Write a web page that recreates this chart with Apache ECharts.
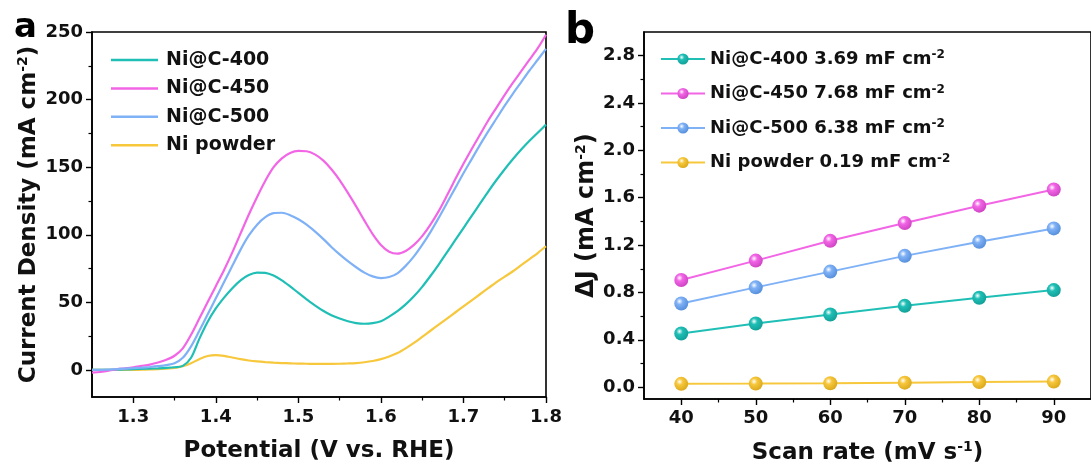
<!DOCTYPE html>
<html>
<head>
<meta charset="utf-8">
<script src="https://cdn.jsdelivr.net/npm/echarts@6/dist/echarts.min.js"></script>
<style>
  html, body { margin: 0; padding: 0; background: #fff; }
  #main { width: 1091px; height: 473px; }
</style>
</head>
<body>
<div id="main"></div>
<script>
// panel a: LSV curves, 10 mV steps from 1.25 V to 1.80 V
var potential = [1.25, 1.26, 1.27, 1.28, 1.29, 1.30, 1.31, 1.32, 1.33, 1.34,
    1.35, 1.36, 1.37, 1.38, 1.39, 1.40, 1.41, 1.42, 1.43, 1.44,
    1.45, 1.46, 1.47, 1.48, 1.49, 1.50, 1.51, 1.52, 1.53, 1.54,
    1.55, 1.56, 1.57, 1.58, 1.59, 1.60, 1.61, 1.62, 1.63, 1.64,
    1.65, 1.66, 1.67, 1.68, 1.69, 1.70, 1.71, 1.72, 1.73, 1.74,
    1.75, 1.76, 1.77, 1.78, 1.79, 1.80];
var jNiC400 = [0, 0, 0, 0.2, 0.4, 0.6, 0.8, 1, 1.2, 1.5,
    2, 3, 9, 23, 35.5, 45.5, 53.5, 60.5, 66.3, 70.2,
    72, 71.8, 69.8, 66.3, 61.8, 57, 52.3, 47.8, 43.8, 40.5,
    38, 36, 34.7, 34.2, 34.6, 36, 39.5, 43.5, 48.5, 54.5,
    61.5, 69.5, 78, 87, 96, 105, 114, 123, 132, 140.5,
    148.5, 156, 163, 169.5, 175.5, 181.5];
var jNiC450 = [-2, -1.5, -0.5, 0.5, 1.2, 2, 3, 4, 5.5, 7.5,
    10.5, 16, 26, 38, 50, 62, 74, 87, 101, 115,
    128, 140, 150, 156.5, 160.5, 162, 161.8, 159.5, 155, 148.5,
    140.5, 131, 121, 110.5, 100.5, 92.5, 87.5, 86, 88, 92.5,
    99, 107.5, 117.5, 129, 141, 152.5, 163.5, 174, 184.5, 194,
    203.5, 212.5, 221, 229.5, 238, 248];
var jNiC500 = [0, 0, 0.3, 0.6, 1, 1.3, 1.7, 2.2, 2.8, 3.6,
    5, 9, 17.5, 29, 41, 53, 65, 77, 89, 99.5,
    107.5, 113, 116, 116.3, 114.5, 111.5, 107.5, 102.5, 97, 91,
    85.5, 80.5, 76, 72, 69.2, 68, 68.8, 71.5, 77, 84,
    92.5, 102, 112.5, 123.5, 134.5, 145.5, 156, 166.5, 176.5, 186,
    195.5, 204.5, 213, 221.5, 229.5, 237.5];
var jNiPowder = [0, 0, 0, 0, 0, 0, 0.2, 0.4, 0.6, 1,
    1.5, 2.8, 5, 8, 10.3, 11, 10.4, 9.2, 8, 7,
    6.3, 5.8, 5.4, 5.1, 4.9, 4.7, 4.6, 4.5, 4.5, 4.5,
    4.6, 4.8, 5.1, 5.7, 6.6, 8, 10, 12.5, 16, 20,
    24.5, 29, 33.5, 38, 42.5, 47, 51.5, 56, 60.5, 65,
    69, 73, 77.5, 82, 86.5, 91.5];

// panel b: double layer capacitance
var scanRate = [40, 50, 60, 70, 80, 90];
var dj400 = [0.453, 0.538, 0.614, 0.687, 0.755, 0.820];
var dj450 = [0.905, 1.069, 1.236, 1.386, 1.533, 1.669];
var dj500 = [0.707, 0.843, 0.976, 1.109, 1.228, 1.341];
var djPowder = [0.028, 0.030, 0.033, 0.038, 0.044, 0.047];

var namesA = ['Ni@C-400', 'Ni@C-450', 'Ni@C-500', 'Ni powder'];
var namesB = ['Ni@C-400 3.69 mF cm', 'Ni@C-450 7.68 mF cm', 'Ni@C-500 6.38 mF cm', 'Ni powder 0.19 mF cm'];
var colors = ['#1fbfb6', '#f266e6', '#7fb1f6', '#f7c73c'];
var darkColors = ['#12a199', '#cf45c4', '#5790dc', '#dcaa1c'];

var ticksAMajorX = [1.3, 1.4, 1.5, 1.6, 1.7, 1.8];
var ticksAMinorX = [1.35, 1.45, 1.55, 1.65, 1.75];
var ticksAMajorY = [0, 50, 100, 150, 200, 250];
var ticksAMinorY = [25, 75, 125, 175, 225];
var ticksBMajorX = [40, 50, 60, 70, 80, 90];
var ticksBMinorX = [45, 55, 65, 75, 85];
var ticksBMajorY = [0, 0.4, 0.8, 1.2, 1.6, 2.0, 2.4, 2.8];
var ticksBMinorY = [0.2, 0.6, 1.0, 1.4, 1.8, 2.2, 2.6];

var FONT = 'DejaVu Sans, sans-serif';

function pairs(xs, ys) {
    return xs.map(function (x, i) { return [x, ys[i]]; });
}

function sphere(i) {
    return {
        type: 'radial', x: 0.38, y: 0.35, r: 0.65,
        colorStops: [
            { offset: 0, color: '#ffffff' },
            { offset: 0.35, color: colors[i] },
            { offset: 1, color: darkColors[i] }
        ]
    };
}

function nameStyle(size) {
    return {
        color: '#111', fontFamily: FONT, fontWeight: 'bold', fontSize: size,
        rich: {
            t: { fontFamily: FONT, fontWeight: 'bold', fontSize: size, color: '#111' },
            s: { fontFamily: FONT, fontWeight: 'bold', fontSize: 14, color: '#111', verticalAlign: 'top', padding: [0, 0, 12, 0] }
        }
    };
}

function majorAxis(grid, pos, min, max, major, fmt, margin, name, gap, nameSize) {
    return {
        type: 'value', gridIndex: grid, position: pos, min: min, max: max,
        axisLine: { show: true, onZero: false, lineStyle: { color: '#000', width: 1.6 } },
        axisTick: { show: true, inside: false, length: 6, customValues: major, lineStyle: { color: '#000', width: 1.4 } },
        axisLabel: { customValues: major, formatter: fmt, margin: margin, color: '#111', fontFamily: FONT, fontWeight: 'bold', fontSize: 18 },
        splitLine: { show: false },
        name: name, nameLocation: 'middle', nameGap: gap,
        nameTextStyle: nameStyle(nameSize)
    };
}

function minorAxis(grid, pos, min, max, minor) {
    return {
        type: 'value', gridIndex: grid, position: pos, offset: 0, min: min, max: max,
        axisLine: { show: false, onZero: false },
        axisTick: { show: true, inside: false, length: 3.5, customValues: minor, lineStyle: { color: '#000', width: 1.2 } },
        axisLabel: { show: false },
        splitLine: { show: false }
    };
}

var fmt1 = function (v) { return v.toFixed(1); };
var fmt0 = function (v) { return String(Math.round(v)); };

var seriesA = [jNiC400, jNiC450, jNiC500, jNiPowder].map(function (d, i) {
    return {
        name: namesA[i], type: 'line', xAxisIndex: 0, yAxisIndex: 0,
        data: pairs(potential, d), smooth: 0.3, symbol: 'none',
        lineStyle: { color: colors[i], width: 2.2 }, itemStyle: { color: colors[i] },
        z: i === 3 ? 2 : 3
    };
});

var seriesB = [dj400, dj450, dj500, djPowder].map(function (d, i) {
    return {
        name: namesB[i], type: 'line', xAxisIndex: 2, yAxisIndex: 2,
        data: pairs(scanRate, d), symbol: 'circle', symbolSize: 14, showSymbol: true,
        lineStyle: { color: colors[i], width: 2 },
        itemStyle: { color: sphere(i), borderWidth: 0 }
    };
});

var chart = echarts.init(document.getElementById('main'), null, { renderer: 'canvas' });
chart.setOption({
    animation: false,
    backgroundColor: '#fff',
    textStyle: { fontFamily: FONT },
    grid: [
        { left: 92, right: 545, top: 32, bottom: 76, show: true, borderColor: '#000', borderWidth: 1.6, backgroundColor: 'transparent' },
        { left: 644, right: -6, top: 32, bottom: 74, show: true, borderColor: '#000', borderWidth: 1.6, backgroundColor: 'transparent' }
    ],
    xAxis: [
        majorAxis(0, 'bottom', 1.25, 1.8, ticksAMajorX, fmt1, 11, 'Potential (V vs. RHE)', 43, 23),
        minorAxis(0, 'bottom', 1.25, 1.8, ticksAMinorX),
        majorAxis(1, 'bottom', 35, 95, ticksBMajorX, fmt0, 10, '{t|Scan rate (mV s}{s|-1}{t|)}', 41, 23),
        minorAxis(1, 'bottom', 35, 95, ticksBMinorX)
    ],
    yAxis: [
        majorAxis(0, 'left', -20, 250, ticksAMajorY, fmt0, 9, '{t|Current Density (mA cm}{s|-2}{t|)}', 50, 23),
        minorAxis(0, 'left', -20, 250, ticksAMinorY),
        majorAxis(1, 'left', -0.1, 3.0, ticksBMajorY, fmt1, 9, '{t|\u0394J (mA cm}{s|-2}{t|)}', 44, 24),
        minorAxis(1, 'left', -0.1, 3.0, ticksBMinorY)
    ],
    legend: [
        {
            data: namesA, orient: 'vertical', left: 111, top: 50, padding: 0,
            icon: 'rect', itemWidth: 47, itemHeight: 2.5, itemGap: 8.4,
            textStyle: { color: '#111', fontFamily: FONT, fontWeight: 'bold', fontSize: 19, lineHeight: 20, padding: [0, 0, 0, 3] }
        },
        {
            data: namesB, orient: 'vertical', left: 660, top: 49, padding: 0,
            itemWidth: 44, itemHeight: 14, itemGap: 14.5,
            formatter: function (n) { return '{t|' + n + '}{s|-2}'; },
            textStyle: {
                color: '#111', fontFamily: FONT, fontWeight: 'bold', fontSize: 18, lineHeight: 20,
                rich: {
                    t: { fontFamily: FONT, fontWeight: 'bold', fontSize: 18, color: '#111' },
                    s: { fontFamily: FONT, fontWeight: 'bold', fontSize: 12, color: '#111', verticalAlign: 'top', padding: [0, 0, 10, 0] }
                }
            }
        }
    ],
    graphic: [
        { type: 'text', left: 14, top: 11, style: { text: 'a', font: 'bold 34px ' + FONT, fill: '#000' } },
        { type: 'text', left: 565, top: 11, style: { text: 'b', font: 'bold 42px ' + FONT, fill: '#000' } }
    ],
    series: seriesA.concat(seriesB)
});
</script>
</body>
</html>
